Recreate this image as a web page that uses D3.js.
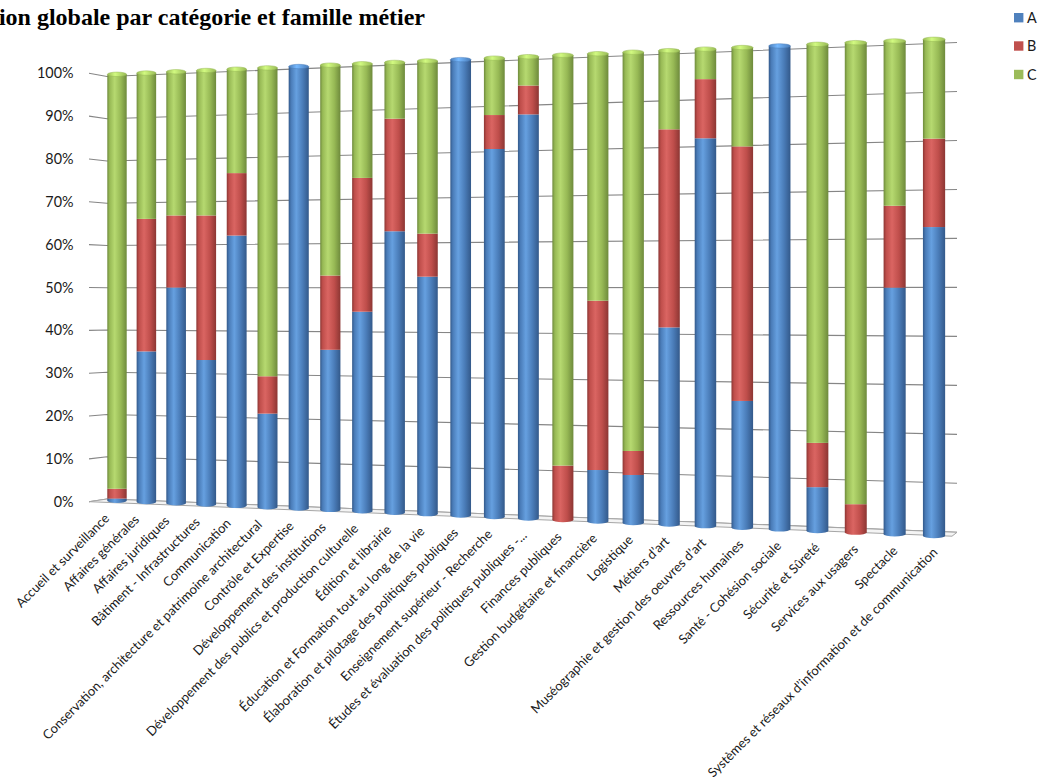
<!DOCTYPE html>
<html><head><meta charset="utf-8">
<script src="https://cdn.jsdelivr.net/npm/d3@7"></script>
<style>body{margin:0;background:#fff;overflow:hidden}</style>
</head><body>
<svg id="chart" width="1040" height="779"></svg>
<script>
const categories = [
  "Accueil et surveillance","Affaires générales","Affaires juridiques","Bâtiment - Infrastructures",
  "Communication","Conservation, architecture et patrimoine architectural","Contrôle et Expertise",
  "Développement des institutions","Développement des publics et production culturelle","Édition et librairie",
  "Éducation et Formation tout au long de la vie","Élaboration et pilotage des politiques publiques",
  "Enseignement supérieur - Recherche","Études et évaluation des politiques publiques -...","Finances publiques",
  "Gestion budgétaire et financière","Logistique","Métiers d’art","Muséographie et gestion des oeuvres d’art",
  "Ressources humaines","Santé - Cohésion sociale","Sécurité et Sûreté","Services aux usagers","Spectacle",
  "Systèmes et réseaux d’information et de communication"
];
const seriesNames = ["A","B","C"];
const valuesA = [0.5,35.1,50,33.3,61.9,21.3,100,36,44.6,62.5,52.4,100,80.2,87.5,0,11,10.2,41.6,81.3,26.4,100,9,0,50,62.2];
const valuesB = [2.3,30.9,16.7,33.3,14.3,8.5,0,16.7,29.9,25,9.5,0,7.4,6.25,11.7,36.2,5.1,41.8,12.4,53,0,9.1,5.8,16.6,17.8];
const valuesC = [97.2,34,33.3,33.4,23.8,70.2,0,47.3,25.5,12.5,38.1,0,12.4,6.25,88.3,52.8,84.7,16.6,6.3,20.6,0,81.9,94.2,33.4,20];
const yTickValues = [0,10,20,30,40,50,60,70,80,90,100];
const titleText = "Répartition globale par catégorie et famille métier";

const colors = {A:"#4F81BD", B:"#C0504D", C:"#9BBB59"};
const shades = {
  A:{dark:"#33598A", mid:"#4A7CB8", hi:"#66A0E0"},
  B:{dark:"#8C3633", mid:"#BF4E4B", hi:"#DA6562"},
  C:{dark:"#6E8A3C", mid:"#97B955", hi:"#B6D970"}
};

const svg = d3.select("#chart");
const defs = svg.append("defs");

const table = categories.map((c,i)=>({cat:c, A:valuesA[i], B:valuesB[i], C:valuesC[i]}));
const stacked = d3.stack().keys(seriesNames)(table);

// ---- perspective geometry (screen mapping) ----
const sScale = d3.scalePoint().domain(categories).range([0,1]);
const persp = s => 117 + 701.1*s/(1-0.1419*s);
const xc = c => persp(sScale(c));
const topLine = d3.scaleLinear().domain([117,934]).range([74.3,39.3]);
const botLine = d3.scaleLinear().domain([117,934]).range([500.7,536]);
const widthAt = d3.scaleLinear().domain([0,1]).range([19.4,22.2]);

const xOuter = 89, xBackL = 107, xBackR = 957;
const yOuter = d3.scaleLinear().domain([0,100]).range([501.7,73.3]);
const yBackL = d3.scaleLinear().domain([0,100]).range([499,76.5]);
const yBackR = d3.scaleLinear().domain([0,100]).range([532.3,42.5]);

function fitSize(txt, target, family, weight){
  const t = svg.append("text").attr("font-family",family).attr("font-weight",weight||"normal")
    .attr("font-size",100).text(txt);
  const w = t.node().getComputedTextLength();
  t.remove();
  return 100*target/w;
}
const sansFam = "Lato, 'Open Sans', sans-serif";
const catSize = fitSize("Accueil et surveillance", 126, sansFam);
const tickSize = fitSize("100%", 36.5, sansFam);

seriesNames.forEach(k=>{
  const g = defs.append("linearGradient").attr("id","g"+k).attr("x1",0).attr("x2",1).attr("y1",0).attr("y2",0);
  [[0,shades[k].dark],[0.12,shades[k].mid],[0.38,shades[k].hi],[0.7,shades[k].mid],[1,shades[k].dark]]
    .forEach(([o,c])=>g.append("stop").attr("offset",o).attr("stop-color",c));
  const gc = defs.append("linearGradient").attr("id","cap"+k).attr("x1",0).attr("x2",1);
  [[0,shades[k].mid],[0.4,d3.color(shades[k].hi).brighter(0.4)],[1,shades[k].mid]]
    .forEach(([o,c])=>gc.append("stop").attr("offset",o).attr("stop-color",c));
});

// ---- title (cut at the left edge, as in the reference) ----
svg.append("text").attr("x",425).attr("y",25).attr("text-anchor","end")
  .attr("font-family","'Liberation Serif','Times New Roman',serif").attr("font-weight","bold")
  .attr("font-size",24).attr("fill","#000").text(titleText);

// ---- gridlines ----
const grid = svg.append("g").attr("stroke","#868686").attr("stroke-width",1.1).attr("fill","none");
yTickValues.forEach(v=>{
  grid.append("polyline").attr("points",
    [[xOuter,yOuter(v)],[xBackL,yBackL(v)],[xBackR,yBackR(v)]].map(p=>p.join(",")).join(" "));
});

// floor
svg.append("polygon").attr("points",
  [[xOuter,yOuter(0)],[xBackL,yBackL(0)],[xBackR,yBackR(0)],[952,536.2]].map(p=>p.join(",")).join(" "))
  .attr("fill","#f4f4f4").attr("stroke","#a6a6a6").attr("stroke-width",1);

// y tick labels
const yAxisG = svg.append("g");
yTickValues.forEach(v=>{
  yAxisG.append("text").attr("x",73.5).attr("y",yOuter(v)).attr("dy","0.35em")
    .attr("text-anchor","end").attr("font-family",sansFam).attr("font-size",tickSize)
    .attr("fill","#1a1a1a").text(d3.format("d")(v)+"%");
});

// ---- bars ----
const barsG = svg.append("g");
categories.forEach((c,i)=>{
  const cx = xc(c), w = widthAt(sScale(c));
  const y = d3.scaleLinear().domain([0,100]).range([botLine(cx), topLine(cx)]);
  const segs = stacked.map(s=>({key:s.key, y0:s[i][0], y1:s[i][1]})).filter(d=>d.y1-d.y0>0);
  const g = barsG.append("g");
  const first = segs[0];
  g.append("ellipse").attr("cx",cx).attr("cy",y(0)).attr("rx",w/2).attr("ry",2.2)
    .attr("fill","url(#g"+first.key+")");
  segs.forEach(d=>{
    g.append("rect").attr("x",cx-w/2).attr("width",w)
      .attr("y",y(d.y1)).attr("height",y(d.y0)-y(d.y1))
      .attr("fill","url(#g"+d.key+")");
  });
  const last = segs[segs.length-1];
  g.append("ellipse").attr("cx",cx).attr("cy",y(last.y1)).attr("rx",w/2).attr("ry",2.2)
    .attr("fill","url(#cap"+last.key+")").attr("stroke",shades[last.key].mid).attr("stroke-width",0.5);
});

// ---- category labels ----
const labG = svg.append("g");
categories.forEach(c=>{
  const s = sScale(c);
  const ax = xc(c) - 10 + 11*s;
  const ay = 516 + (ax-107)*0.041;
  labG.append("text").attr("transform",`translate(${ax},${ay}) rotate(-45)`)
    .attr("text-anchor","end").attr("dy","0.35em")
    .attr("font-family",sansFam).attr("font-size",catSize).attr("fill","#1a1a1a").text(c);
});

// ---- legend ----
const legY = [17.7,46,74.5];
const leg = svg.append("g");
seriesNames.forEach((k,i)=>{
  leg.append("rect").attr("x",1014).attr("y",legY[i]-4.7).attr("width",9.4).attr("height",9.4).attr("fill",colors[k]);
  leg.append("text").attr("x",1027).attr("y",legY[i]).attr("dy","0.35em")
    .attr("font-family",sansFam).attr("font-size",tickSize).attr("fill","#1a1a1a").text(k);
});
</script>
</body></html>
